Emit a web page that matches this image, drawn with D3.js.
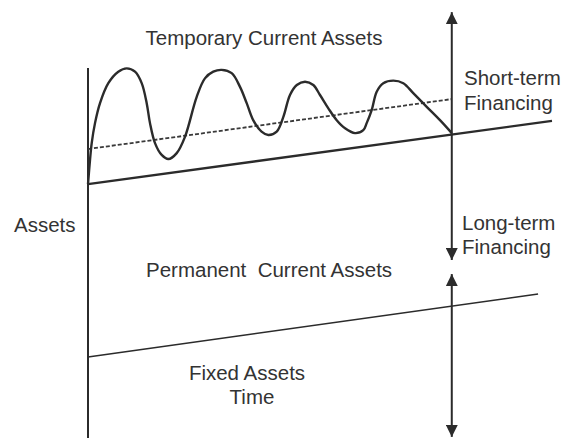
<!DOCTYPE html>
<html>
<head>
<style>
body { margin: 0; background: #fff; }
text {
    font-family: "Liberation Sans", Arial, sans-serif;
    fill: #333;
    white-space: pre;
}
</style>
</head>
<body>
<svg id="chart" width="565" height="438"></svg>

<script src="https://cdn.jsdelivr.net/npm/d3@7"></script>
<script>
    // time runs 0..10, assets 0..100 (arbitrary units)
    const wave_t = [0, 0.043, 0.08, 0.151, 0.259, 0.438, 0.653, 0.834, 1.013, 1.157, 1.265, 1.336, 1.444, 1.588, 1.731, 1.912,
        2.09, 2.343, 2.52, 2.70, 2.88, 3.097, 3.276, 3.42, 3.56, 3.74, 3.886, 4.067, 4.21, 4.353, 4.50, 4.677, 4.856,
        5.0, 5.18, 5.36, 5.54, 5.754, 5.933, 6.006, 6.114, 6.222, 6.364, 6.58, 6.795, 7.01, 7.30, 7.586, 7.84];
    const wave_a = [68.6, 75.1, 79.7, 85.1, 90.5, 95.9, 99.0, 99.9, 99.0, 95.9, 90.5, 85.1, 79.7, 76.5, 75.4, 77.0,
        81.4, 92.2, 97.2, 99.0, 99.5, 98.6, 94.9, 90.5, 85.9, 82.8, 81.9, 82.8, 86.8, 92.7, 95.4, 96.3, 95.4,
        92.7, 89.1, 85.9, 83.7, 82.4, 83.2, 85.1, 88.6, 93.6, 95.9, 96.6, 95.9, 93.2, 89.5, 85.9, 82.4];
    const current_t = [0, 10];
    const current_a = [68.6, 85.7];
    const dashed_t = [0, 7.84];
    const dashed_a = [78.1, 91.6];
    const fixed_t = [0, 9.7];
    const fixed_a = [21.9, 38.9];
    const financing_t = 7.84;
    const short_range = [115.1, 48.1];
    const long_range = [44.3, 0.3];

    const svg = d3.select("#chart");
    const x = d3.scaleLinear().domain([0, 10]).range([88, 552]);
    const y = d3.scaleLinear().domain([0, 100]).range([438, 68]);
    const ink = "#2b2b2b";

    svg.append("defs").append("marker")
        .attr("id", "head")
        .attr("markerUnits", "userSpaceOnUse")
        .attr("viewBox", "0 0 12 12")
        .attr("refX", 12).attr("refY", 6)
        .attr("markerWidth", 12).attr("markerHeight", 12)
        .attr("orient", "auto-start-reverse")
        .append("path")
        .attr("d", "M0,0 L12,6 L0,12 Z")
        .style("fill", ink);

    const pairs = (ts, as) => ts.map((t, i) => [t, as[i]]);
    const line = d3.line().x(d => x(d[0])).y(d => y(d[1]));

    // vertical axis
    svg.append("line")
        .attr("x1", x(0)).attr("x2", x(0))
        .attr("y1", y(100)).attr("y2", y(0))
        .style("stroke", ink).style("stroke-width", 2);

    svg.append("path")
        .datum(pairs(fixed_t, fixed_a))
        .attr("d", line)
        .style("fill", "none").style("stroke", ink).style("stroke-width", 1.6);

    svg.append("path")
        .datum(pairs(current_t, current_a))
        .attr("d", line)
        .style("fill", "none").style("stroke", ink).style("stroke-width", 2.4);

    svg.append("path")
        .datum(pairs(dashed_t, dashed_a))
        .attr("d", line)
        .style("fill", "none").style("stroke", "#3a3a3a").style("stroke-width", 1.8)
        .style("stroke-dasharray", "4,2");

    svg.append("path")
        .datum(pairs(wave_t, wave_a))
        .attr("d", line.curve(d3.curveCatmullRom.alpha(0.5)))
        .style("fill", "none").style("stroke", ink).style("stroke-width", 2.4);

    // financing arrows
    [short_range, long_range].forEach(r => {
        svg.append("line")
            .attr("x1", x(financing_t)).attr("x2", x(financing_t))
            .attr("y1", y(r[0])).attr("y2", y(r[1]))
            .attr("marker-start", "url(#head)")
            .attr("marker-end", "url(#head)")
            .style("stroke", ink).style("stroke-width", 2);
    });

    const fs = "20.5px";
    function label(txt, px, py, anchor) {
        svg.append("text")
            .attr("x", px).attr("y", py)
            .attr("text-anchor", anchor || "start")
            .style("font-size", fs)
            .text(txt);
    }
    label("Temporary Current Assets", 264, 45, "middle");
    label("Short-term", 464, 85);
    label("Financing", 464, 110);
    label("Assets", 14, 232);
    label("Long-term", 462, 230);
    label("Financing", 462, 254);
    label("Permanent  Current Assets", 146, 277);
    label("Fixed Assets", 247, 380, "middle");
    label("Time", 252, 404, "middle");
</script>
</body>
</html>
